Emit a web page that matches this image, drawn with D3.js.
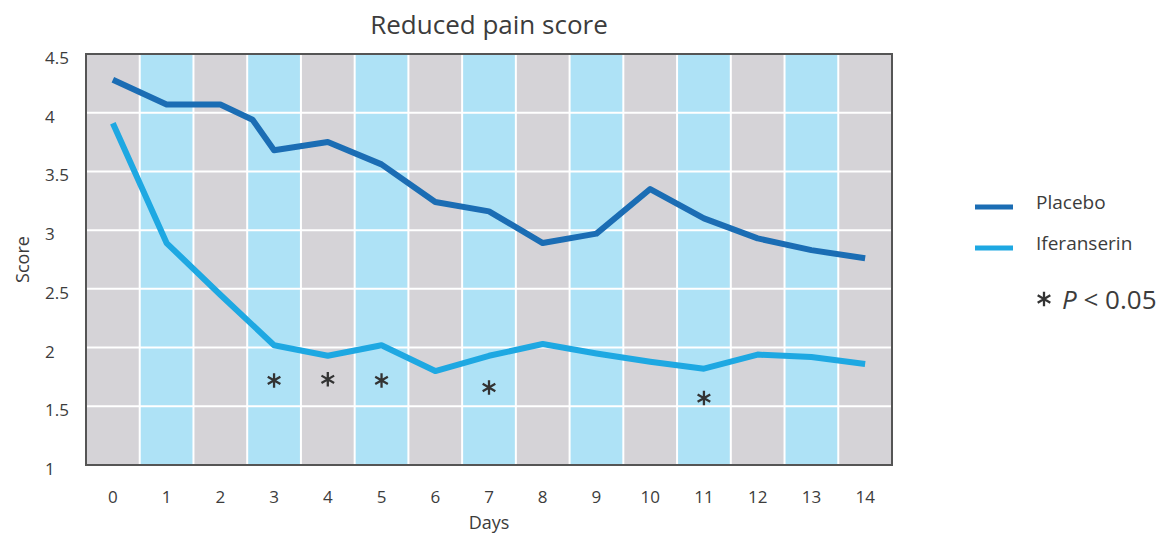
<!DOCTYPE html>
<html>

<head>
  <title>Reduced pain score</title>
  <script src="https://cdn.jsdelivr.net/npm/d3@7/dist/d3.min.js"></script>
  <style>
    body {
      margin: 0;
      background: #fff;
    }

    text {
      font-family: 'Open Sans', sans-serif;
      fill: #3c3c3c;
    }

    rect.col-even {
      fill: #d5d3d7;
    }

    rect.col-odd {
      fill: #aee2f6;
    }

    line.grid {
      stroke: #fff;
      stroke-width: 2;
    }

    rect.frame {
      fill: none;
      stroke: #555;
      stroke-width: 2;
    }

    path.series {
      fill: none;
      stroke-width: 6;
      stroke-linejoin: round;
    }

    path.star {
      fill: none;
      stroke: #333;
      stroke-width: 2.3;
    }
  </style>
</head>

<body>
  <svg id="chart"></svg>

  <script>
    // values
    var days = [0, 1, 2, 3, 4, 5, 6, 7, 8, 9, 10, 11, 12, 13, 14];
    var placeboDays = [0, 1, 2, 2.6, 3, 4, 5, 6, 7, 8, 9, 10, 11, 12, 13, 14];
    var placebo = [4.28, 4.07, 4.07, 3.94, 3.68, 3.75, 3.56, 3.24, 3.16, 2.89, 2.97, 3.35, 3.10, 2.93, 2.83, 2.76];
    var iferanserin = [3.91, 2.89, 2.45, 2.02, 1.93, 2.02, 1.80, 1.93, 2.03, 1.95, 1.88, 1.82, 1.94, 1.92, 1.86];
    var sigDays = [3, 4, 5, 7, 11];  // p < 0.05 markers
    var sigLevel = [1.72, 1.73, 1.72, 1.66, 1.57];  // score where each * sits
    var yTicks = [1, 1.5, 2, 2.5, 3, 3.5, 4, 4.5];
    var seriesNames = ['Placebo', 'Iferanserin'];
    var seriesColors = ['#1b6db4', '#1ea8e2'];

    var width = 1164, height = 540;
    // plot box (note: "top" is reserved on window)
    var pLeft = 86, pRight = 892, pTop = 54, pBottom = 465;

    var svg = d3.select('#chart')
      .attr('width', width)
      .attr('height', height);

    var x = d3.scaleLinear().domain([-0.5, 14.5]).range([pLeft, pRight]);
    var y = d3.scaleLinear().domain([1, 4.5]).range([pBottom, pTop]);

    // alternating day columns
    svg.selectAll('rect.col')
      .data(days)
      .enter()
      .append('rect')
      .attr('class', d => d % 2 ? 'col col-odd' : 'col col-even')
      .attr('x', d => x(d - 0.5))
      .attr('y', pTop)
      .attr('width', d => x(d + 0.5) - x(d - 0.5))
      .attr('height', pBottom - pTop);

    // white grid
    svg.selectAll('line.hgrid')
      .data(yTicks.slice(1, -1))
      .enter()
      .append('line')
      .attr('class', 'grid')
      .attr('x1', pLeft)
      .attr('x2', pRight)
      .attr('y1', d => y(d))
      .attr('y2', d => y(d));

    svg.selectAll('line.vgrid')
      .data(days.slice(1))
      .enter()
      .append('line')
      .attr('class', 'grid')
      .attr('x1', d => x(d - 0.5))
      .attr('x2', d => x(d - 0.5))
      .attr('y1', pTop)
      .attr('y2', pBottom);

    svg.append('rect')
      .attr('class', 'frame')
      .attr('x', pLeft)
      .attr('y', pTop)
      .attr('width', pRight - pLeft)
      .attr('height', pBottom - pTop);

    // axes labels (left aligned y ticks like the original)
    svg.selectAll('text.ytick')
      .data(yTicks)
      .enter()
      .append('text')
      .attr('x', 45)
      .attr('y', d => y(d) + 10)
      .style('font-size', '17px')
      .text(d => d);

    svg.selectAll('text.xtick')
      .data(days)
      .enter()
      .append('text')
      .attr('x', d => x(d))
      .attr('y', 503)
      .attr('text-anchor', 'middle')
      .style('font-size', '17px')
      .text(d => d);

    svg.append('text')
      .attr('x', (pLeft + pRight) / 2)
      .attr('y', 529)
      .attr('text-anchor', 'middle')
      .style('font-size', '18px')
      .text('Days');

    svg.append('text')
      .attr('transform', 'translate(29,' + ((pTop + pBottom) / 2) + ') rotate(-90)')
      .attr('text-anchor', 'middle')
      .style('font-size', '18px')
      .text('Score');

    svg.append('text')
      .attr('x', (pLeft + pRight) / 2)
      .attr('y', 34)
      .attr('text-anchor', 'middle')
      .style('font-size', '26px')
      .text('Reduced pain score');

    // series lines
    var line = d3.line()
      .x(d => x(d[0]))
      .y(d => y(d[1]));

    svg.append('path')
      .attr('class', 'series')
      .attr('stroke', seriesColors[0])
      .attr('d', line(d3.zip(placeboDays, placebo)));

    svg.append('path')
      .attr('class', 'series')
      .attr('stroke', seriesColors[1])
      .attr('d', line(d3.zip(days, iferanserin)));

    // significance asterisks under iferanserin
    var star = d3.symbol(d3.symbolAsterisk, 150);

    svg.selectAll('path.sig')
      .data(d3.zip(sigDays, sigLevel))
      .enter()
      .append('path')
      .attr('class', 'star')
      .attr('transform', d => 'translate(' + x(d[0]) + ',' + y(d[1]) + ')')
      .attr('d', star);

    // legend
    var legend = svg.selectAll('g.legend')
      .data(seriesNames)
      .enter()
      .append('g')
      .attr('transform', (d, i) => 'translate(975,' + (207 + i * 41) + ')');

    legend.append('line')
      .attr('x1', 0)
      .attr('x2', 38)
      .attr('stroke', (d, i) => seriesColors[i])
      .attr('stroke-width', 5);

    legend.append('text')
      .attr('x', 61)
      .attr('y', 2)
      .style('font-size', '19px')
      .text(d => d);

    svg.append('path')
      .attr('class', 'star')
      .attr('transform', 'translate(1044,299)')
      .attr('d', d3.symbol(d3.symbolAsterisk, 150));

    var pText = svg.append('text')
      .attr('x', 1062)
      .attr('y', 309)
      .style('font-size', '26px');
    pText.append('tspan').style('font-style', 'italic').text('P');
    pText.append('tspan').text(' < 0.05');
  </script>
</body>

</html>
